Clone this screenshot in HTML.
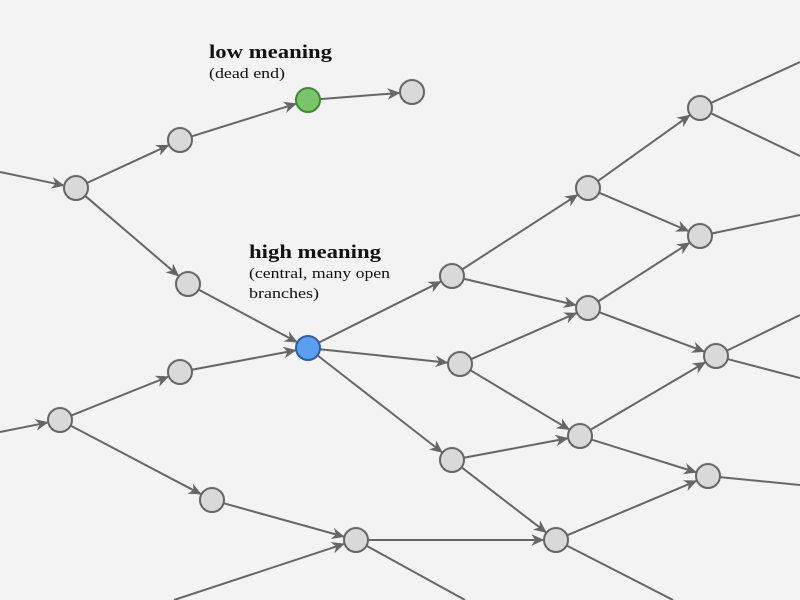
<!DOCTYPE html>
<html><head><meta charset="utf-8"><style>
html,body{margin:0;padding:0;background:#f3f3f3;}
svg{display:block;}
text{font-family:"Liberation Serif",serif;fill:#111;}
</style></head><body>
<svg id="s" width="800" height="600" viewBox="0 0 800 600" xmlns="http://www.w3.org/2000/svg">
<defs><marker id="a" viewBox="0 0 10 10" refX="9" refY="5" markerWidth="6.5" markerHeight="6.5" orient="auto" markerUnits="strokeWidth"><path d="M0,0.5 L10,5 L0,9.5 L3,5 z" fill="#666"/></marker></defs>
<g id="e" stroke="#666" stroke-width="2" fill="none"></g>
<g id="n"></g>
<text x="209" y="58" font-size="19" font-weight="bold" textLength="123" lengthAdjust="spacingAndGlyphs">low meaning</text>
<text x="209" y="78" font-size="15" textLength="76" lengthAdjust="spacingAndGlyphs">(dead end)</text>
<text x="249" y="258" font-size="19" font-weight="bold" textLength="132" lengthAdjust="spacingAndGlyphs">high meaning</text>
<text x="249" y="278" font-size="15" textLength="141" lengthAdjust="spacingAndGlyphs">(central, many open</text>
<text x="249" y="298" font-size="15" textLength="70" lengthAdjust="spacingAndGlyphs">branches)</text>
</svg>
<script>
var N={A:[76,188],B:[180,140],G:[308,100],C:[412,92],D:[188,284],H:[308,348],E:[180,372],F:[60,420],I:[212,500],J:[356,540],K:[452,276],L:[460,364],M:[452,460],N:[588,188],O:[588,308],P:[580,436],Q:[556,540],R:[700,108],S:[700,236],T:[716,356],U:[708,476]};
var r=12;
var E=[[[0,172],'A'],['A','B'],['B','G'],['G','C'],['A','D'],['D','H'],['E','H'],['F','E'],[[0,432],'F'],['F','I'],['I','J'],[[174,600],'J'],['J','Q'],['J',[465,600]],
['H','K'],['H','L'],['H','M'],['K','N'],['K','O'],['L','O'],['L','P'],['M','P'],['M','Q'],
['N','R'],['N','S'],['O','S'],['O','T'],['P','T'],['P','U'],['Q','U'],['Q',[673,600]],
['R',[800,62]],['R',[800,156]],['S',[800,215]],['T',[800,315]],['T',[800,378]],['U',[800,485]]];
var ns="http://www.w3.org/2000/svg",ge=document.getElementById('e'),gn=document.getElementById('n');
E.forEach(function(e){var a=typeof e[0]=='string'?N[e[0]]:e[0],b=typeof e[1]=='string'?N[e[1]]:e[1];
var dx=b[0]-a[0],dy=b[1]-a[1],L=Math.hypot(dx,dy),ux=dx/L,uy=dy/L;
var x1=a[0],y1=a[1],x2=b[0],y2=b[1];
if(typeof e[0]=='string'){x1+=ux*r;y1+=uy*r;}
var arrow=typeof e[1]=='string';
if(arrow){x2-=ux*(r+1);y2-=uy*(r+1);}
var l=document.createElementNS(ns,'line');l.setAttribute('x1',x1);l.setAttribute('y1',y1);l.setAttribute('x2',x2);l.setAttribute('y2',y2);
if(arrow)l.setAttribute('marker-end','url(#a)');ge.appendChild(l);});
for(var k in N){var c=document.createElementNS(ns,'circle');c.setAttribute('cx',N[k][0]);c.setAttribute('cy',N[k][1]);c.setAttribute('r',r);
var f='#d9d9d9',s='#666';if(k=='G'){f='#7cc46a';s='#3d8a30';}if(k=='H'){f='#5b9ef2';s='#2c5fa6';}
c.setAttribute('fill',f);c.setAttribute('stroke',s);c.setAttribute('stroke-width','2');gn.appendChild(c);}
</script>
</body></html>
